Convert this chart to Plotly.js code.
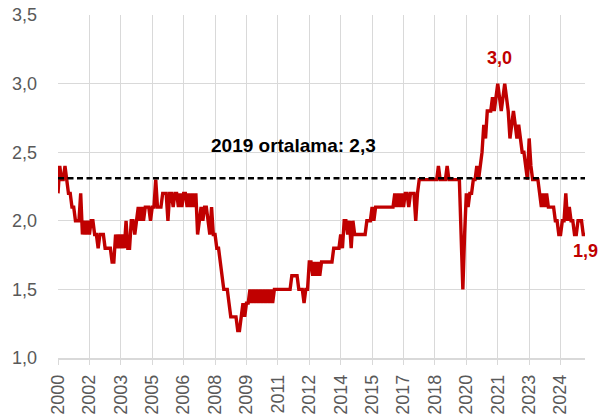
<!DOCTYPE html>
<html>
<head>
<meta charset="utf-8">
<script src="https://cdn.plot.ly/plotly-3.0.1.min.js"></script>
<style>
html,body{margin:0;padding:0;background:#fff;}
#chart{width:607px;height:419px;}
</style>
</head>
<body>
<div id="chart"></div>
<script>
// Monthly series values
const values = [
  2.2,2.4,2.3,2.3,2.4,2.3,2.2,2.2,2.1,2.1,
  2.0,2.0,2.0,2.2,1.9,2.0,1.9,2.0,1.9,2.0,
  2.0,1.9,1.9,1.8,1.9,1.9,1.9,1.8,1.8,1.8,
  1.8,1.7,1.7,1.9,1.8,1.9,1.8,1.9,1.8,2.0,
  1.8,1.8,2.0,2.0,1.9,2.0,2.1,2.0,2.1,2.0,
  2.1,2.1,2.1,2.0,2.1,2.1,2.3,2.1,2.1,2.1,
  2.2,2.2,2.2,2.0,2.2,2.2,2.1,2.2,2.2,2.1,
  2.2,2.1,2.2,2.2,2.1,2.2,2.1,2.2,2.1,2.2,
  1.9,2.0,2.1,2.0,2.1,2.1,2.0,1.9,2.1,1.9,
  1.9,1.8,1.8,1.7,1.6,1.5,1.5,1.5,1.4,1.3,
  1.3,1.3,1.3,1.2,1.2,1.3,1.4,1.3,1.4,1.4,
  1.5,1.4,1.5,1.4,1.5,1.4,1.5,1.4,1.5,1.4,
  1.5,1.4,1.5,1.4,1.5,1.5,1.5,1.5,1.5,1.5,
  1.5,1.5,1.5,1.5,1.6,1.6,1.6,1.6,1.5,1.5,
  1.5,1.4,1.5,1.5,1.7,1.7,1.6,1.7,1.6,1.7,
  1.6,1.7,1.7,1.7,1.7,1.7,1.7,1.7,1.8,1.8,
  1.8,1.8,1.9,1.8,2.0,2.0,1.9,2.0,1.8,2.0,
  1.9,1.9,1.9,1.9,1.9,1.9,1.9,2.0,2.0,2.0,
  2.1,2.0,2.1,2.1,2.1,2.1,2.1,2.1,2.1,2.1,
  2.1,2.1,2.1,2.2,2.1,2.2,2.1,2.2,2.1,2.2,
  2.2,2.1,2.2,2.2,2.2,2.0,2.2,2.3,2.3,2.3,
  2.3,2.3,2.3,2.3,2.3,2.3,2.3,2.3,2.4,2.3,
  2.3,2.3,2.3,2.4,2.3,2.3,2.3,2.3,2.3,2.3,
  2.3,1.9,1.5,1.9,2.2,2.1,2.2,2.2,2.3,2.3,
  2.4,2.3,2.4,2.5,2.7,2.6,2.8,2.8,2.8,2.9,
  2.8,2.9,3.0,2.9,2.8,2.9,3.0,2.9,2.8,2.6,
  2.7,2.8,2.7,2.6,2.7,2.6,2.5,2.5,2.4,2.3,
  2.6,2.4,2.3,2.3,2.3,2.3,2.2,2.1,2.2,2.1,
  2.2,2.1,2.1,2.1,2.1,2.0,2.0,1.9,1.9,2.0,
  2.0,2.2,2.0,2.1,2.0,2.0,1.9,1.9,2.0,2.0,
  2.0,1.9,1.9
];
// Tick labels (one every 18 months)
const tickLabels = ['2000','2002','2003','2005','2006','2008','2009','2011','2012',
                    '2014','2015','2017','2018','2020','2021','2023','2024'];
const tickStep = 18;
const avg2019 = 2.31;
const avgLabel = '2019 ortalama: 2,3';

const idx = values.map((v, i) => i);
const last = values.length - 1;
const tickVals = tickLabels.map((t, k) => k * tickStep);
const peak = Math.max(...values);
const peakIdx = values.indexOf(peak);
const fmt = v => v.toFixed(1).replace('.', ',');

const red = '#C00000';
const grid = '#D9D9D9';
const tickFont = {family: 'Liberation Sans, Arial, sans-serif', size: 18, color: '#595959'};

const traces = [
  {x: idx, y: values, type: 'scatter', mode: 'lines',
   line: {color: red, width: 3.4}, hoverinfo: 'skip'},
  {x: [0, last], y: [avg2019, avg2019], type: 'scatter', mode: 'lines',
   line: {color: '#000', width: 2.4, dash: '6px,3.5px'}, hoverinfo: 'skip'}
];

const layout = {
  width: 607, height: 419,
  margin: {l: 58, r: 22, t: 15, b: 61},
  paper_bgcolor: '#fff', plot_bgcolor: '#fff',
  showlegend: false,
  separators: ',.',
  xaxis: {
    range: [0, last],
    tickmode: 'array', tickvals: tickVals, ticktext: tickLabels,
    tickangle: -90,
    tickfont: tickFont,
    showgrid: true, gridcolor: grid, gridwidth: 1,
    showline: true, linecolor: grid, linewidth: 1.5,
    ticks: 'outside', ticklen: 5, tickcolor: grid, tickwidth: 1,
    ticklabelstandoff: 3,
    zeroline: false, fixedrange: true
  },
  yaxis: {
    range: [1, 3.5], dtick: 0.5, tick0: 1, tickformat: '.1f',
    tickfont: tickFont,
    showgrid: true, gridcolor: grid, gridwidth: 1,
    showline: false, zeroline: false,
    ticks: '', ticklabelstandoff: 20, fixedrange: true
  },
  annotations: [
    {x: 135, y: 2.55, xref: 'x', yref: 'y', text: avgLabel, showarrow: false,
     font: {family: 'Liberation Sans, Arial, sans-serif', size: 19, color: '#000', weight: 'bold'}},
    {x: peakIdx, y: peak, xref: 'x', yref: 'y', text: fmt(peak), showarrow: false,
     yshift: 26, xshift: 2,
     font: {family: 'Liberation Sans, Arial, sans-serif', size: 18, color: red, weight: 'bold'}},
    {x: last, y: values[last], xref: 'x', yref: 'y', text: fmt(values[last]), showarrow: false,
     yshift: -16,
     font: {family: 'Liberation Sans, Arial, sans-serif', size: 18, color: red, weight: 'bold'}}
  ]
};

Plotly.newPlot('chart', traces, layout, {staticPlot: true, displayModeBar: false});
</script>
</body>
</html>
